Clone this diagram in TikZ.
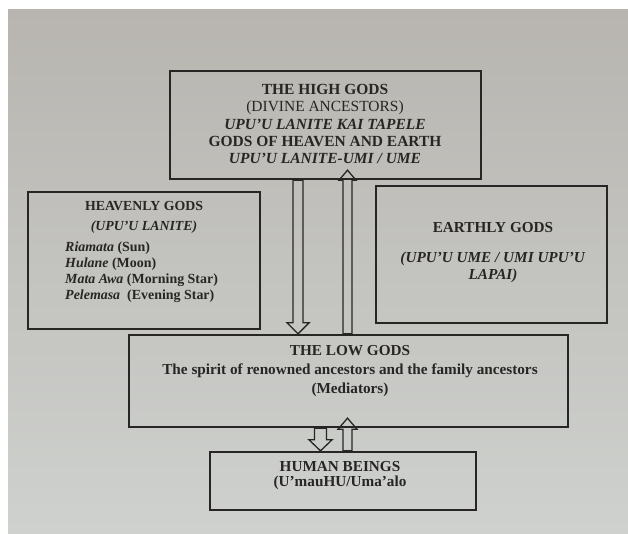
\documentclass[tikz,border=0pt]{standalone}
\usepackage{fontspec}
\setmainfont{Liberation Serif}
\usetikzlibrary{calc,positioning}

\definecolor{ink}{RGB}{40,38,36}
\definecolor{pagetop}{RGB}{184,181,176}
\definecolor{pagemid}{RGB}{218,218,214}
\definecolor{pagebot}{RGB}{206,209,206}

\tikzset{
  godbox/.style={draw=ink, line width=2pt, inner sep=0pt},
  godtext/.style={align=center, text=ink, inner sep=0pt},
  blockarr/.style={draw=ink, line width=1.1pt, line join=miter}
}

% hollow block arrow: tail, tip, half shaft, half head, head length
\newcommand{\blockarrow}[5]{%
  \coordinate (ab) at ($(#2)!#5!(#1)$);
  \draw[blockarr] ($(#1)!#3!90:(#2)$) -- ($(ab)!#3!90:(#2)$) -- ($(ab)!#4!90:(#2)$) -- (#2)
    -- ($(ab)!#4!-90:(#2)$) -- ($(ab)!#3!-90:(#2)$) -- ($(#1)!#3!-90:(#2)$) -- cycle;}

\begin{document}
\begin{tikzpicture}[x=0.3mm, y={(0,-0.3mm)}]
  \useasboundingbox (0,0) rectangle (628,533);
  \fill[white] (0,0) rectangle (628,533);
  \shade[top color=pagetop, middle color=pagemid, bottom color=pagebot] (8,9) rectangle (628,533);

  % boxes
  \node[godbox, minimum width=93.3mm, minimum height=32.4mm] (high) at (325.5,125) {};
  \node[godbox, minimum width=69.6mm, minimum height=41.1mm] (heaven) at (144,260.5) {};
  \node[godbox, minimum width=69.3mm, minimum height=41.1mm] (earth) at (491.5,254.5) {};
  \node[godbox, minimum width=131.7mm, minimum height=27.6mm] (low) at (348.5,381) {};
  \node[godbox, minimum width=79.8mm, minimum height=17.4mm] (human) at (343,481) {};

  % texts
  \node[godtext, font=\fontsize{13.2}{14.9}\selectfont] (hightext) at (325,124)
    {\textbf{THE HIGH GODS}\\ (DIVINE ANCESTORS)\\ \textbf{\textit{UPU’U LANITE KAI TAPELE}}\\
     \textbf{GODS OF HEAVEN AND EARTH}\\ \textbf{\textit{UPU’U LANITE-UMI / UME}}};
  \node[godtext, font=\bfseries\fontsize{11.8}{17}\selectfont] (heavtitle) at (144,217)
    {HEAVENLY GODS\\ \textit{(UPU’U LANITE)}};
  \node[godtext, align=left, anchor=west, font=\bfseries\fontsize{11.9}{13.6}\selectfont] (heavlist) at (65,272)
    {\textit{Riamata} (Sun)\\ \textit{Hulane} (Moon)\\ \textit{Mata Awa} (Morning Star)\\ \textit{Pelemasa}~ (Evening Star)};
  \node[godtext, font=\bfseries\fontsize{13}{14.5}\selectfont] (earthtext) at (493,253)
    {EARTHLY GODS\\[3.9mm] \textit{(UPU’U UME / UMI UPU’U}\\ \textit{LAPAI)}};
  \node[godtext, font=\bfseries\fontsize{13}{16}\selectfont] (lowtext) at (350,371)
    {THE LOW GODS\\ The spirit of renowned ancestors and the family ancestors\\ (Mediators)};
  \node[godtext, font=\bfseries\fontsize{13}{12.8}\selectfont] (humantext) at (340,476)
    {HUMAN BEINGS\\ (U’mauHU/Uma’alo};

  % arrow ends
  \coordinate (dnA) at (298,0 |- high.south);
  \coordinate (dnB) at (298,0 |- low.north);
  \coordinate (upA) at (347.5,0 |- low.north);
  \coordinate (upB) at ($(347.5,0 |- high.south)+(0,-10)$);
  \coordinate (dnC) at (320.5,0 |- low.south);
  \coordinate (dnD) at (320.5,0 |- human.north);
  \coordinate (upC) at (347.5,0 |- human.north);
  \coordinate (upD) at ($(347.5,0 |- low.south)+(0,-10)$);

  \blockarrow{dnA}{dnB}{1.5mm}{3.3mm}{3.3mm}
  \blockarrow{upA}{upB}{1.35mm}{2.55mm}{3mm}
  \blockarrow{dnC}{dnD}{1.8mm}{3.45mm}{3.3mm}
  \blockarrow{upC}{upD}{1.35mm}{2.85mm}{3.3mm}
\end{tikzpicture}
\end{document}
